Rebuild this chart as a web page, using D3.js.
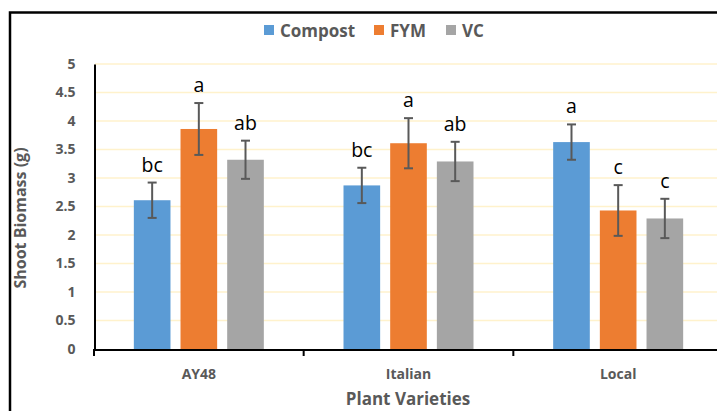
<!DOCTYPE html>
<html><head><meta charset="utf-8">
<script src="https://cdn.jsdelivr.net/npm/d3@7/dist/d3.min.js"></script>
<style>body{margin:0;background:#fff}svg{display:block}</style>
</head><body><svg id="c" width="717" height="411"></svg>
<script>
const categories = ["AY48", "Italian", "Local"];
const series = ["Compost", "FYM", "VC"];
const compost = [2.61, 2.87, 3.63];
const fym = [3.86, 3.61, 2.43];
const vc = [3.32, 3.29, 2.29];
const errCompost = [0.31, 0.31, 0.31];
const errFym = [0.455, 0.44, 0.445];
const errVc = [0.335, 0.345, 0.345];
const lettersCompost = ["bc", "bc", "a"];
const lettersFym = ["a", "a", "c"];
const lettersVc = ["ab", "ab", "c"];
const yTicks = [0, 0.5, 1, 1.5, 2, 2.5, 3, 3.5, 4, 4.5, 5];
const colors = ["#5B9BD5", "#ED7D31", "#A5A5A5"];

const values = [compost, fym, vc];
const errs = [errCompost, errFym, errVc];
const letters = [lettersCompost, lettersFym, lettersVc];
const data = [];
categories.forEach((c, i) => series.forEach((s, j) => data.push({
  cat: c, ser: s, j, v: values[j][i], e: errs[j][i], l: letters[j][i]
})));

const svg = d3.select("#c");
const font = "'Open Sans', sans-serif";
const gray = "#595959";

// chart border
svg.append("rect").attr("x", 10).attr("y", 12.5).attr("width", 740).attr("height", 420)
  .attr("fill", "none").attr("stroke", "#000").attr("stroke-width", 2.5);

const y = d3.scaleLinear().domain([0, 5]).range([349, 64]);
const x0 = d3.scaleBand().domain(categories).range([94, 723]);
const bw = x0.bandwidth();
const x1 = d3.scaleBand().domain(series).range([bw * 0.19, bw * 0.81]).paddingInner(0.215);

// gridlines
svg.append("g").selectAll("line").data(yTicks.filter(t => t > 0)).join("line")
  .attr("x1", 95).attr("x2", 723).attr("y1", d => y(d)).attr("y2", d => y(d))
  .attr("stroke", "#FFF2CC").attr("stroke-width", 1.5);

// bars
svg.append("g").selectAll("rect").data(data).join("rect")
  .attr("x", d => x0(d.cat) + x1(d.ser)).attr("width", x1.bandwidth())
  .attr("y", d => y(d.v)).attr("height", d => y(0) - y(d.v))
  .attr("fill", d => colors[d.j]);

// error bars
const eg = svg.append("g").attr("stroke", gray).attr("stroke-width", 2);
data.forEach(d => {
  const cx = x0(d.cat) + x1(d.ser) + x1.bandwidth() / 2;
  eg.append("line").attr("x1", cx).attr("x2", cx).attr("y1", y(d.v + d.e)).attr("y2", y(d.v - d.e));
  eg.append("line").attr("x1", cx - 4.5).attr("x2", cx + 4.5).attr("y1", y(d.v + d.e)).attr("y2", y(d.v + d.e));
  eg.append("line").attr("x1", cx - 4.5).attr("x2", cx + 4.5).attr("y1", y(d.v - d.e)).attr("y2", y(d.v - d.e));
});

// letters
svg.append("g").selectAll("text").data(data).join("text")
  .attr("x", d => x0(d.cat) + x1(d.ser) + x1.bandwidth() / 2)
  .attr("y", d => y(d.v + d.e) - 11)
  .attr("text-anchor", "middle").attr("font-family", font).attr("font-size", 19.5)
  .attr("fill", "#000").text(d => d.l);

// y axis
const ya = svg.append("g").attr("transform", "translate(94.5,0)")
  .call(d3.axisLeft(y).tickValues(yTicks).tickSize(0).tickPadding(19).tickFormat(d3.format("")));
ya.select(".domain").attr("stroke", "#000").attr("stroke-width", 2);
ya.selectAll("text").attr("font-family", font).attr("font-weight", 700).attr("font-size", 14).attr("fill", gray);

// x axis
const xa = svg.append("g").attr("transform", "translate(0,349.5)")
  .call(d3.axisBottom(x0).tickSize(0).tickPadding(20));
xa.select(".domain").attr("stroke", "#000").attr("stroke-width", 2);
xa.selectAll("text").attr("font-family", font).attr("font-weight", 700).attr("font-size", 14).attr("fill", gray);
svg.append("g").selectAll("line").data(categories).join("line")
  .attr("x1", d => x0(d)).attr("x2", d => x0(d)).attr("y1", 349).attr("y2", 356)
  .attr("stroke", "#000").attr("stroke-width", 2);

// axis titles
svg.append("text").attr("x", 408).attr("y", 405).attr("text-anchor", "middle")
  .attr("font-family", font).attr("font-weight", 700).attr("font-size", 17).attr("fill", gray)
  .text("Plant Varieties");
svg.append("text").attr("transform", "translate(26,218) rotate(-90)").attr("text-anchor", "middle")
  .attr("font-family", font).attr("font-weight", 700).attr("font-size", 16).attr("fill", gray)
  .text("Shoot Biomass (g)");

// legend
const legX = [264, 374, 446];
const lg = svg.append("g");
series.forEach((s, j) => {
  lg.append("rect").attr("x", legX[j]).attr("y", 25).attr("width", 10).attr("height", 10).attr("fill", colors[j]);
  lg.append("text").attr("x", legX[j] + 16).attr("y", 36.5).attr("font-family", font)
    .attr("font-weight", 700).attr("font-size", 17).attr("fill", gray).text(s);
});
</script></body></html>
